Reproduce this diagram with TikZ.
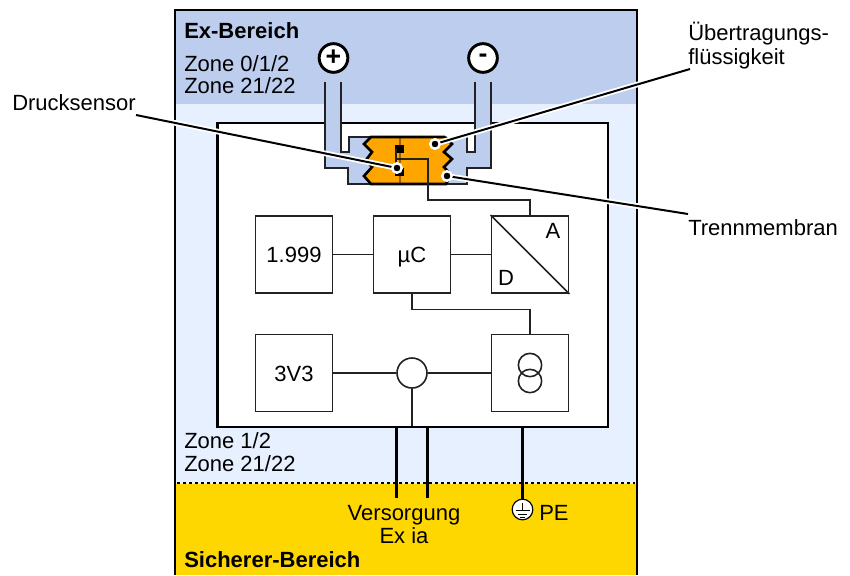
\documentclass[tikz,border=0pt]{standalone}
\usepackage{fontspec}
\setmainfont{Liberation Sans}
\definecolor{zoneA}{HTML}{BDCDEE}
\definecolor{zoneB}{HTML}{E6F0FF}
\definecolor{safe}{HTML}{FFD700}
\definecolor{oil}{HTML}{FFA500}
\definecolor{oilline}{HTML}{A05F00}
\definecolor{wire}{HTML}{222222}
\tikzset{
  lbl/.style={inner sep=0pt,font=\fontsize{16.5pt}{20pt}\selectfont,text=black},
  lblb/.style={lbl,font=\fontsize{16.5pt}{20pt}\selectfont\bfseries},
  blockbox/.style={draw=wire,line width=1.2pt,fill=white,minimum size=58pt,inner sep=0pt,text height=12pt,text depth=0pt,font=\fontsize{16.5pt}{20pt}\selectfont},
  thin wire/.style={draw=wire,line width=1.1pt},
  thick wire/.style={draw=black,line width=2.3pt},
  pipe line/.style={draw=wire,line width=1.4pt},
  halo/.style={draw=white,line width=4.2pt},
  leader/.style={draw=black,line width=1.5pt},
  ringdot/.style={circle,fill=black,draw=white,line width=1.7pt,minimum size=7pt,inner sep=0pt},
  terminal/.style={circle,draw=black,fill=white,line width=2.2pt,minimum size=21.5pt,inner sep=0pt,font=\fontsize{20pt}{20pt}\selectfont\bfseries},
}
\begin{document}
\begin{tikzpicture}[x=0.75pt,y=-0.75pt]
\useasboundingbox (0,0) rectangle (850,575);
% zones
\fill[zoneA] (175,10) rectangle (637,104);
\fill[zoneB] (175,104) rectangle (637,484);
\fill[safe] (175,484) rectangle (637,575);
\draw[black,line width=2.2pt] (175,575) -- (175,10) -- (637,10) -- (637,575);
\draw[black,line width=2.2pt,dash pattern=on 2.2pt off 2.3pt] (177,483) -- (635,483);
% housing
\node[draw=black,fill=white,line width=2.2pt,minimum width=293.2pt,minimum height=228pt,inner sep=0pt] (housing) at (412.5,275) {};
% pipes
\fill[zoneA] (325,82) -- (325,168) -- (348,168) -- (348,184) -- (400,184) -- (400,137) -- (349,137) -- (349,152) -- (341,152) -- (341,82) -- cycle;
\fill[zoneA] (491,82) -- (491,168) -- (467,168) -- (467,184) -- (420,184) -- (420,137) -- (467,137) -- (467,152) -- (475,152) -- (475,82) -- cycle;
\draw[pipe line] (325,82) -- (325,168) -- (348,168) -- (348,184) -- (372,184);
\draw[pipe line] (341,82) -- (341,152) -- (349,152) -- (349,137) -- (372,137);
\draw[pipe line] (491,82) -- (491,168) -- (467,168) -- (467,184) -- (440,184);
\draw[pipe line] (475,82) -- (475,152) -- (467,152) -- (467,137);
% oil chamber
\fill[oil] (371,137) -- (364,144) -- (372,152) -- (366,160) -- (372,167) -- (364,176) -- (371,184) -- (446,184) -- (451,175) -- (444,167) -- (452,159) -- (444,152) -- (452,144) -- (445,137) -- cycle;
\draw[oilline,line width=1.1pt] (400,137) -- (400,184);
\draw[black,line width=2pt,line join=miter] (445,137) -- (371,137) -- (364,144) -- (372,152) -- (366,160) -- (372,167) -- (364,176) -- (371,184) -- (446,184) -- (451,175) -- (444,167) -- (452,159) -- (444,152) -- (452,144) -- (445,137);
% sensor
\node[fill=black,minimum width=6.8pt,minimum height=6pt,inner sep=0pt] (sensorA) at (399.5,149) {};
\node[fill=black,minimum width=6.8pt,minimum height=6pt,inner sep=0pt] (sensorB) at (399.5,172) {};
\coordinate (sensorTap) at (396,159);
\draw[thin wire] (396,149) -- (396,172);
% blocks
\node[blockbox] (display) at (294,254.5) {1.999};
\node[blockbox] (mcu) at (412,254.5) {µC};
\node[blockbox] (adc) at (530,254.5) {};
\node[blockbox] (reg) at (294,373) {3V3};
\node[blockbox] (trafo) at (530,373) {};
\node[circle,draw=wire,line width=1.2pt,fill=white,minimum size=22.5pt,inner sep=0pt] (junction) at (412,373) {};
\node[circle,draw=wire,line width=1.2pt,minimum size=17.5pt,inner sep=0pt] (coilA) at (530,365) {};
\node[circle,draw=wire,line width=1.2pt,minimum size=17.5pt,inner sep=0pt] (coilB) at (530,381) {};
\draw[thin wire] (adc.north west) -- (adc.south east);
\node[lbl,anchor=base] (labA) at (553,238) {A};
\node[lbl,anchor=base] (labD) at (506,285) {D};
% signal wires
\draw[thin wire] (sensorTap) -- (428,159) -- (428,200) -- (530,200) -- (adc.north);
\draw[thin wire] (display) -- (mcu);
\draw[thin wire] (mcu) -- (adc);
\draw[thin wire] (mcu.south) -- (412,309.5) -- (530,309.5) -- (trafo.north);
\draw[thin wire] (reg) -- (junction);
\draw[thin wire] (junction) -- (trafo);
\draw[thin wire] (junction.south) -- (412,426);
% outgoing wires
\coordinate (supA) at (396.5,498);
\coordinate (supB) at (427.5,498);
\draw[thick wire] (396.5,428) -- (supA);
\draw[thick wire] (427.5,428) -- (supB);
% PE
\node[circle,draw=black,fill=white,line width=0.9pt,minimum size=15.5pt,inner sep=0pt] (earth) at (522.5,509.5) {};
\draw[thick wire] (522.5,428) -- (earth.north);
\draw[black,line width=0.7pt] (522.5,503) -- (522.5,510.5) (515.5,510.5) -- (529.5,510.5) (518,514) -- (527,514) (520,517.5) -- (525,517.5);
% terminals
\node[terminal] (plus) at (333.5,58) {+};
\node[terminal] (minus) at (483,58) {-};
% leaders
\coordinate (leadA) at (136,115);
\coordinate (leadB) at (690,69);
\coordinate (leadC) at (688,214);
\node[ringdot] (dotA) at (397,168) {};
\node[ringdot] (dotB) at (435,144) {};
\node[ringdot] (dotC) at (447,176) {};
\draw[halo] (leadA) -- (dotA.center);
\draw[halo] (leadB) -- (dotB.center);
\draw[halo] (leadC) -- (dotC.center);
\draw[leader] (leadA) -- (dotA.center);
\draw[leader] (leadB) -- (dotB.center);
\draw[leader] (leadC) -- (dotC.center);
\node[ringdot] at (dotA) {};
\node[ringdot] at (dotB) {};
\node[ringdot] at (dotC) {};
% labels
\node[lblb,anchor=base west] (exb) at (184,38) {Ex-Bereich};
\node[lbl,anchor=base west] (z1) at (184,71) {Zone 0/1/2};
\node[lbl,anchor=base west] (z2) at (184,93) {Zone 21/22};
\node[lbl,anchor=base west] (z3) at (184,448) {Zone 1/2};
\node[lbl,anchor=base west] (z4) at (184,471) {Zone 21/22};
\node[lbl,anchor=base] (vers) at (404,520) {Versorgung};
\node[lbl,anchor=base] (exia) at (404,543) {Ex ia};
\node[lbl,anchor=base west] (pe) at (539,520) {PE};
\node[lblb,anchor=base west] (sicher) at (184,567) {Sicherer-Bereich};
\node[lbl,anchor=base west] (drucks) at (12,110) {Drucksensor};
\node[lbl,anchor=base west] (uebA) at (688,40) {Übertragungs-};
\node[lbl,anchor=base west] (uebB) at (688,64) {flüssigkeit};
\node[lbl,anchor=base west] (trenn) at (688,235) {Trennmembran};
\end{tikzpicture}
\end{document}
